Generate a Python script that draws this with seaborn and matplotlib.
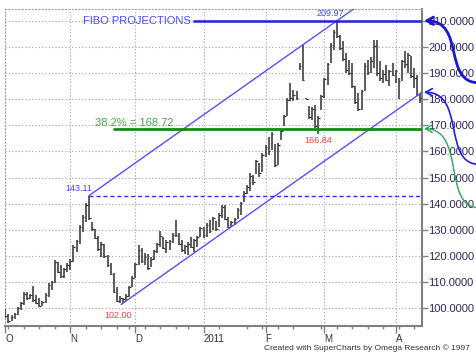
import numpy as np
import pandas as pd
import matplotlib
matplotlib.use('Agg')
import matplotlib.pyplot as plt
from matplotlib.path import Path
from matplotlib.patches import FancyArrowPatch
from matplotlib.ticker import FormatStrFormatter
import seaborn as sns

# daily bars, 1 Oct 2010 .. 13 Apr 2011
high = [99.6, 98.0, 97.6, 98.4, 100.6, 102.6, 106.4, 106.4, 105.6, 108.5,
        105.0, 103.8, 102.8, 105.7, 109.6, 110.6, 118.5, 117.6, 116.4, 115.6,
        117.2, 118.8, 124.2, 126.1, 131.9, 135.7, 140.2, 143.11, 133.2, 130.4,
        127.8, 125.2, 124.8, 120.4, 117.4, 113.6, 108.2, 104.6, 104.0, 105.4,
        108.6, 112.2, 117.2, 124.3, 123.0, 121.0, 120.6, 119.8, 122.3, 125.0,
        129.4, 127.4, 126.0, 126.2, 128.7, 133.8, 128.7, 126.2, 124.3, 125.5,
        127.4, 126.6, 127.8, 131.3, 131.0, 132.6, 133.8, 135.1, 133.4, 136.4,
        139.6, 139.6, 135.1, 133.6, 134.5, 138.3, 140.8, 144.7, 147.2, 151.7,
        151.0, 156.8, 155.5, 159.3, 162.5, 165.7, 167.6, 163.0, 163.2, 168.3,
        174.1, 180.4, 186.2, 183.6, 183.0, 193.8, 200.8, 180.6, 177.3, 177.0,
        177.9, 173.4, 181.7, 188.1, 194.0, 201.5, 206.6, 209.97, 204.6, 202.1,
        197.6, 195.1, 193.8, 184.9, 182.4, 183.6, 193.8, 195.1, 196.0, 202.7,
        202.7, 194.5, 191.3, 193.2, 191.3, 193.8, 191.3, 188.0, 195.1, 198.3,
        197.6, 196.4, 191.9, 189.4, 181.8]
low = [96.2, 94.3, 95.0, 96.0, 97.4, 99.4, 101.4, 103.2, 103.4, 102.6,
       101.6, 100.6, 100.8, 102.2, 104.5, 107.0, 109.6, 113.4, 111.5, 111.8,
       114.0, 114.7, 117.9, 121.7, 124.6, 129.3, 133.2, 133.8, 129.4, 126.4,
       122.0, 119.8, 119.4, 115.8, 112.6, 105.8, 102.4, 102.2, 102.0, 102.8,
       104.4, 108.0, 111.8, 116.6, 117.2, 116.4, 114.7, 115.8, 118.6, 121.2,
       123.6, 122.6, 121.0, 122.3, 124.9, 127.4, 124.2, 121.7, 120.6, 120.4,
       123.0, 121.7, 123.4, 127.4, 126.8, 127.4, 128.7, 130.0, 129.4, 131.3,
       134.5, 133.8, 130.6, 131.0, 131.9, 134.2, 135.7, 140.6, 143.8, 144.7,
       147.2, 151.4, 150.4, 152.3, 158.0, 158.7, 160.4, 154.2, 154.9, 164.5,
       169.6, 173.4, 179.4, 179.2, 179.8, 191.3, 186.8, 180.0, 172.6, 172.2,
       169.0, 166.84, 176.0, 180.4, 185.5, 194.0, 199.0, 203.4, 198.9, 194.5,
       190.0, 189.4, 184.3, 178.0, 175.5, 176.0, 183.0, 189.4, 190.0, 191.9,
       188.7, 186.8, 186.2, 186.8, 184.9, 188.7, 186.2, 180.0, 187.0, 192.0,
       190.0, 188.1, 184.3, 181.1, 178.5]
close = [97.0, 95.0, 96.6, 97.8, 100.0, 102.0, 105.6, 104.0, 105.0, 103.2,
         102.2, 101.0, 102.4, 105.2, 109.0, 110.0, 117.8, 114.0, 112.2, 115.0,
         116.6, 118.2, 123.6, 125.6, 131.2, 135.0, 139.4, 134.6, 130.2, 127.0,
         122.6, 124.6, 120.0, 116.4, 113.0, 106.4, 102.8, 103.8, 103.6, 104.8,
         108.2, 111.6, 116.8, 122.4, 118.2, 119.8, 115.6, 119.0, 121.8, 124.6,
         127.6, 123.2, 125.2, 125.6, 128.2, 128.0, 124.6, 122.4, 123.8, 124.8,
         123.6, 126.0, 127.2, 130.6, 128.2, 131.8, 129.6, 134.4, 130.4, 135.8,
         138.6, 134.2, 131.2, 133.0, 134.2, 137.8, 140.2, 144.2, 146.6, 150.6,
         148.2, 156.2, 151.6, 158.8, 161.8, 160.2, 166.8, 155.0, 162.6, 167.8,
         173.6, 179.8, 180.4, 181.6, 180.6, 192.6, 187.4, 180.2, 173.2, 176.4,
         169.8, 172.8, 181.2, 187.6, 193.4, 200.8, 205.8, 204.2, 199.6, 195.2,
         191.2, 190.2, 185.0, 179.0, 176.4, 183.0, 192.8, 190.4, 194.6, 200.4,
         190.2, 188.0, 189.6, 187.4, 190.6, 189.2, 190.8, 187.0, 194.6, 193.4,
         196.8, 189.0, 188.0, 182.0, 180.4]

holidays = ['2010-11-25', '2010-12-24', '2011-01-17', '2011-02-21']
fib_level = 168.72
fib_text = '38.2% = 168.72'

days = pd.bdate_range('2010-10-01', '2011-04-13')
days = days[~days.isin(pd.to_datetime(holidays))]
df = pd.DataFrame({'high': high, 'low': low, 'close': close}, index=days)
x = np.arange(len(df))

month_pos = [i for i in x if i == 0 or days[i].month != days[i - 1].month]
month_lbl = [str(days[i].year) if days[i].month == 1 else days[i].strftime('%b')[0]
             for i in month_pos]
mondays = [i for i in x if days[i].weekday() == 0 and i not in month_pos]

# pivots
p1 = int(np.argmax(df.high.values[:60]))
l1 = 20 + int(np.argmin(df.low.values[20:60]))
p2 = int(np.argmax(df.high.values))
l2 = 90 + int(np.argmin(df.low.values[90:p2]))
slope = (high[p2] - high[p1]) / (p2 - p1)

sns.set_theme(style='white')
plt.rcParams['font.family'] = ['Liberation Sans', 'DejaVu Sans']

fig = plt.figure(figsize=(4.77, 3.54), dpi=100)
ax = fig.add_axes([5 / 477, 28 / 354, 417 / 477, 317 / 354])
xmin, xmax = -0.1, len(df) - 0.5
ymin, ymax = 93.25, 214.5
ax.set_xlim(xmin, xmax)
ax.set_ylim(ymin, ymax)

grid_kw = dict(color='#a0a0a0', lw=0.8, ls=(0, (1, 2)))
ax.set_yticks(range(100, 211, 10))
ax.grid(True, which='major', **grid_kw)

# bars
bar_c = '#303030'
ax.vlines(x, df.low, df.high, color=bar_c, lw=1.1, zorder=3)
ax.hlines(df.close, x, x + 0.55, color=bar_c, lw=0.9, zorder=3)

# channel
up_end = p1 + (ymax + 2 - high[p1]) / slope
sns.lineplot(x=[p1, up_end], y=[high[p1], ymax + 2], ax=ax, color='#5050ff', lw=1, zorder=4)
lo_start = l1 - 0.6
sns.lineplot(x=[lo_start, xmax], y=[low[l1] - 0.6 * slope, low[l1] + (xmax - l1) * slope],
             ax=ax, color='#5050ff', lw=1, zorder=4)

# levels
ax.hlines(high[p1], p1, xmax, color='#3030f0', lw=1, ls=(0, (3, 2)), zorder=4)
ax.hlines(fib_level, 34.7, xmax, color='#138a13', lw=2, zorder=4)
ax.text(29, fib_level + 1.0, fib_text, color='#44aa44', fontsize=8,
        ha='left', va='baseline', zorder=5)
fibo = ax.text(25.2, 210, 'FIBO PROJECTIONS', color='#4a4aff', fontsize=8,
               ha='left', va='center', zorder=5)

lab = dict(textcoords='offset points', fontsize=6.5, zorder=5)
ax.annotate(f'{high[p1]:.2f}', xy=(p1, high[p1]), xytext=(-7, 2), ha='center', va='bottom',
            color='#4444ff', **lab)
ax.annotate(f'{high[p2]:.2f}', xy=(p2, high[p2]), xytext=(-5, 2), ha='center', va='bottom',
            color='#4444ff', **lab)
ax.annotate(f'{low[l1]:.2f}', xy=(l1, low[l1]), xytext=(-3.5, -5.5), ha='center', va='top',
            color='#ff4040', **lab)
ax.annotate(f'{low[l2]:.2f}', xy=(l2, low[l2]), xytext=(0, -2), ha='center', va='top',
            color='#ff4040', **lab)

# axes cosmetics
for s in ['right', 'bottom']:
    ax.spines[s].set_color('#808080')
    ax.spines[s].set_linewidth(1.5)
for s in ['top', 'left']:
    ax.spines[s].set_color('#a0a0a0')
    ax.spines[s].set_linewidth(0.8)
    ax.spines[s].set_linestyle((0, (1, 2)))

ax.yaxis.set_major_formatter(FormatStrFormatter('%.4f'))
ax.tick_params(axis='y', left=False, labelleft=False, right=True, labelright=True,
               direction='out', length=4, width=1, color='#808080',
               labelsize=8, labelcolor='#33265e', pad=0.5)
ax.set_xticks(month_pos)
ax.set_xticklabels(month_lbl, ha='left')
ax.set_xticks(mondays, minor=True)
ax.tick_params(axis='x', which='major', bottom=True, direction='out', length=5, width=1,
               color='#808080', labelsize=7, labelcolor='#333333', pad=0.5)
ax.tick_params(axis='x', which='minor', bottom=True, direction='out', length=2.5, width=1,
               color='#808080')

fig.text(470 / 477, 5.5 / 354, 'Created with SuperCharts by Omega Research \u00a9 1997',
         ha='right', va='center', fontsize=6, color='#333333')

# line from the end of the FIBO text to the axis
fig.canvas.draw()
bb = fibo.get_window_extent()
fibo_end = ax.transData.inverted().transform((bb.x1 + 2, bb.y0))[0]
ax.hlines(210, fibo_end, xmax, color='#2020dd', lw=1.8, zorder=4)

# curly projection arrows outside the plot
to_fig = fig.transFigure.inverted()
W = 477


def curl(yval, drop, color, lw):
    tx, ty = ax.transData.transform((xmax, yval))
    tx += 2
    ex, ey = W + 2, ty - drop
    verts = [(ex, ey), (tx + 18, ey), (tx + 42, ty), (tx, ty)]
    verts = [to_fig.transform(v) for v in verts]
    path = Path(verts, [Path.MOVETO, Path.CURVE4, Path.CURVE4, Path.CURVE4])
    arr = FancyArrowPatch(path=path, arrowstyle='->,head_length=0.4,head_width=0.22',
                          mutation_scale=12, color=color, lw=lw, transform=fig.transFigure)
    fig.add_artist(arr)


curl(210, 62, '#1818d0', 2.0)
curl(low[l1] + (xmax - l1) * slope, 72, '#2020e8', 1.2)
curl(fib_level, 79, '#22aa55', 1.0)

fig.savefig('out.png', dpi=100, facecolor='white')
plt.close()
